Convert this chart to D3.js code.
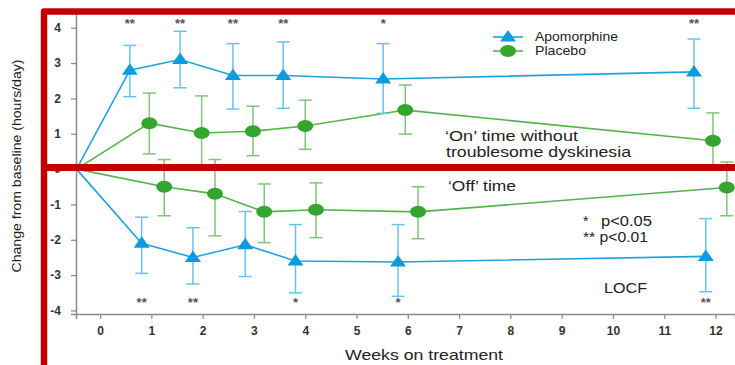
<!DOCTYPE html>
<html>
<head>
<meta charset="utf-8">
<script src="https://cdn.jsdelivr.net/npm/d3@7"></script>
<style>
  html, body { margin: 0; padding: 0; background: #fff; }
  svg { display: block; font-family: "Liberation Sans", Arial, sans-serif; }
</style>
</head>
<body>
<svg id="chart" width="735" height="365"></svg>
<script>
"use strict";

// weeks where each series was plotted (panels are offset a bit in the figure)
const baselineWeek = -0.46;
const onApoWeeks = [0.58, 1.56, 2.59, 3.57, 5.52, 11.58];
const onPlaWeeks = [0.96, 1.98, 2.98, 4.0, 5.95, 11.95];
const offApoWeeks = [0.81, 1.81, 2.83, 3.81, 5.81, 11.81];
const offPlaWeeks = [1.25, 2.24, 3.2, 4.21, 6.2, 12.22];

// 'On' time without troublesome dyskinesia (hours/day)
const onApo = [2.8, 3.1, 2.65, 2.65, 2.55, 2.75];
const onApoHi = [3.5, 3.9, 3.55, 3.6, 3.55, 3.68];
const onApoLo = [2.05, 2.3, 1.7, 1.72, 1.58, 1.72];
const onPla = [1.3, 1.02, 1.07, 1.22, 1.67, 0.8];
const onPlaHi = [2.15, 2.07, 1.78, 1.95, 2.38, 1.59];
const onPlaLo = [0.43, -0.03, 0.38, 0.56, 0.99, 0.0];

// 'Off' time (hours/day)
const offApo = [-2.1, -2.5, -2.14, -2.6, -2.63, -2.47];
const offApoHi = [-1.36, -1.66, -1.2, -1.57, -1.57, -1.4];
const offApoLo = [-2.95, -3.25, -3.04, -3.5, -3.6, -3.47];
const offPla = [-0.5, -0.7, -1.21, -1.15, -1.21, -0.52];
const offPlaHi = [0.27, 0.27, -0.42, -0.39, -0.5, 0.2];
const offPlaLo = [-1.32, -1.89, -2.08, -1.94, -1.97, -1.32];

// significance marks above / below apomorphine points
const onStars = ["**", "**", "**", "**", "*", "**"];
const offStars = ["**", "**", "", "*", "*", "**"];

const xTicks = [0, 1, 2, 3, 4, 5, 6, 7, 8, 9, 10, 11, 12];
const yTicks = [-4, -3, -2, -1, 0, 1, 2, 3, 4];

const COLORS = {
  apoLine: "#1fa3dd",
  apoMark: "#0c9cdb",
  apoErr: "#6ac2ea",
  plaLine: "#55b24d",
  plaMark: "#34a52e",
  plaErr: "#80c478",
  axis: "#8a8a8a",
  text: "#222",
  red: "#c20000"
};

const svg = d3.select("#chart");
const x = d3.scaleLinear().domain([-0.47, 12.38]).range([76, 735]);
const y = d3.scaleLinear().domain([-4.1, 4.4]).range([314, 13.6]);

// axes
const xAxis = svg.append("g")
  .attr("transform", `translate(0,${y(-4.1)})`)
  .call(d3.axisBottom(x).tickValues(xTicks).tickSize(5).tickPadding(7).tickFormat(d => String(d)));
const yAxis = svg.append("g")
  .attr("transform", `translate(${x(-0.47)},0)`)
  .call(d3.axisLeft(y).tickValues(yTicks).tickSize(5).tickPadding(10).tickFormat(d => String(d)));
[xAxis, yAxis].forEach(a => {
  a.select(".domain").attr("stroke", COLORS.axis).attr("stroke-width", 1.5);
  a.selectAll(".tick line").attr("stroke", COLORS.axis).attr("stroke-width", 1.2);
  a.selectAll(".tick text")
    .attr("fill", "#333")
    .style("font-size", "12px")
    .style("font-weight", "bold")
    .style("font-family", "'Liberation Sans', Arial, sans-serif");
});

// building one series: error bars, line, markers
function drawSeries(weeks, vals, hi, lo, kind) {
  const apo = kind === "apo";
  const errColor = apo ? COLORS.apoErr : COLORS.plaErr;
  const g = svg.append("g");
  const pts = weeks.map((w, i) => ({ w, v: vals[i], hi: hi[i], lo: lo[i] }));

  const eb = g.selectAll("g.err").data(pts).join("g")
    .attr("stroke", errColor).attr("stroke-width", 1.5).attr("fill", "none");
  eb.append("line")
    .attr("x1", d => x(d.w)).attr("x2", d => x(d.w))
    .attr("y1", d => y(d.hi)).attr("y2", d => y(d.lo));
  eb.append("line")
    .attr("x1", d => x(d.w) - 6.5).attr("x2", d => x(d.w) + 6.5)
    .attr("y1", d => y(d.hi)).attr("y2", d => y(d.hi));
  eb.append("line")
    .attr("x1", d => x(d.w) - 6.5).attr("x2", d => x(d.w) + 6.5)
    .attr("y1", d => y(d.lo)).attr("y2", d => y(d.lo));

  const line = d3.line().x(d => x(d.w)).y(d => y(d.v));
  g.append("path")
    .datum([{ w: baselineWeek, v: 0 }].concat(pts))
    .attr("d", line)
    .attr("fill", "none")
    .attr("stroke", apo ? COLORS.apoLine : COLORS.plaLine)
    .attr("stroke-width", 1.6);

  drawMarkers(g, pts, kind);
}

function drawMarkers(g, pts, kind) {
  if (kind === "apo") {
    g.selectAll("path.mk").data(pts).join("path")
      .attr("d", d => {
        const cx = x(d.w), cy = y(d.v);
        return `M${cx},${cy - 7} L${cx + 8},${cy + 4.5} L${cx - 8},${cy + 4.5} Z`;
      })
      .attr("fill", COLORS.apoMark);
  } else {
    g.selectAll("ellipse.mk").data(pts).join("ellipse")
      .attr("cx", d => x(d.w)).attr("cy", d => y(d.v))
      .attr("rx", 8).attr("ry", 6)
      .attr("fill", COLORS.plaMark);
  }
}

drawSeries(onPlaWeeks, onPla, onPlaHi, onPlaLo, "pla");
drawSeries(onApoWeeks, onApo, onApoHi, onApoLo, "apo");
drawSeries(offPlaWeeks, offPla, offPlaHi, offPlaLo, "pla");
drawSeries(offApoWeeks, offApo, offApoHi, offApoLo, "apo");

// significance stars
function drawStars(weeks, stars, yVal) {
  svg.append("g").selectAll("text").data(weeks.map((w, i) => ({ w, s: stars[i] }))).join("text")
    .attr("x", d => x(d.w))
    .attr("y", y(yVal))
    .attr("text-anchor", "middle")
    .attr("fill", "#555")
    .style("font-size", "13px")
    .style("font-weight", "bold")
    .text(d => d.s);
}
drawStars(onApoWeeks, onStars, 4.0);
drawStars(offApoWeeks, offStars, -3.9);

// text helper (the figure's lettering is stretched sideways)
function label(txt, px, py, size, len, anchor) {
  const t = svg.append("text")
    .attr("x", px).attr("y", py)
    .attr("fill", COLORS.text)
    .style("font-size", size + "px")
    .text(txt);
  if (len) t.attr("textLength", len).attr("lengthAdjust", "spacingAndGlyphs");
  if (anchor) t.attr("text-anchor", anchor);
  return t;
}

// legend
const legend = svg.append("g");
legend.append("line").attr("x1", 493).attr("x2", 523).attr("y1", 37).attr("y2", 37)
  .attr("stroke", COLORS.apoLine).attr("stroke-width", 1.6);
legend.append("path").attr("d", "M508,30 L516,41.5 L500,41.5 Z").attr("fill", COLORS.apoMark);
legend.append("line").attr("x1", 493).attr("x2", 523).attr("y1", 51).attr("y2", 51)
  .attr("stroke", COLORS.plaLine).attr("stroke-width", 1.6);
legend.append("ellipse").attr("cx", 508).attr("cy", 51).attr("rx", 8).attr("ry", 6).attr("fill", COLORS.plaMark);
label("Apomorphine", 535, 41, 12.5, 83);
label("Placebo", 535, 55, 12.5, 51);

// annotations
label("\u2018On\u2019 time without", 445, 141, 14.5, 133);
label("troublesome dyskinesia", 446, 157, 14.5, 185);
label("\u2018Off\u2019 time", 448, 191, 14.5, 68);
label("*", 583, 226, 14, null);
label("p<0.05", 601, 226, 14, 51);
label("** p<0.01", 583, 242, 14, 65);
label("LOCF", 604, 293, 14, 43);

// axis titles
label("Weeks on treatment", 345, 360, 14.5, 158);
label("Change from baseline (hours/day)", 0, 0, 13.5, 213, "middle")
  .attr("transform", "translate(21,166) rotate(-90)");

// red highlight frame drawn over the figure
const frame = svg.append("g").attr("fill", "none").attr("stroke", COLORS.red);
frame.append("path")
  .attr("d", "M735,11.5 H44 V365")
  .attr("stroke-width", 6.5)
  .attr("stroke-linejoin", "round");
frame.append("line")
  .attr("x1", 41).attr("x2", 735).attr("y1", 167.5).attr("y2", 167.5)
  .attr("stroke-width", 7);
</script>
</body>
</html>
